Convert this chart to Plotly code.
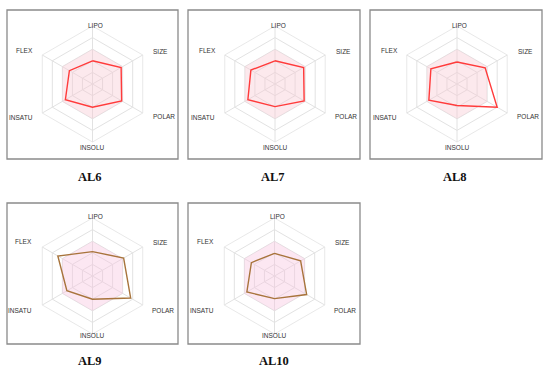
import plotly.graph_objects as go

W, H = 550, 367

properties = ["LIPO", "SIZE", "POLAR", "INSOLU", "INSATU", "FLEX"]
compounds = ["AL6", "AL7", "AL8", "AL9", "AL10"]
al6 = [2.0, 2.85, 2.9, 2.0, 2.7, 2.3]
al7 = [2.0, 2.85, 2.9, 1.95, 2.7, 2.4]
al8 = [1.9, 2.8, 4.0, 1.85, 2.8, 2.6]
al9 = [2.1, 3.1, 3.8, 2.0, 2.55, 3.45]
al10 = [1.95, 2.6, 3.2, 1.95, 2.75, 2.3]
values = [al6, al7, al8, al9, al10]
optimal = [3, 3, 3, 3, 3, 3]
grid_levels = [1, 2, 3, 4, 5]

line_colors = ["#ff3b3b", "#ff3b3b", "#ff3b3b", "#a8743c", "#a8743c"]
pink_fills = ["rgba(248,200,210,0.4)"] * 3 + ["rgba(248,195,222,0.4)"] * 2

# panel layout (pixels): center x, center y, box
centers = [(92.5, 84), (275, 84), (457, 84), (92.5, 276), (274.5, 276)]
boxes = [(7, 10, 178, 159), (188, 10, 360, 159), (370, 10, 542, 159),
         (7, 203, 178, 344), (188, 203, 360, 344)]
title_pos = [(90, 177), (273, 177), (455, 177), (90, 361), (274, 361)]
# axis-label offsets from the radar centre (pixels), top row / bottom row
label_offsets_top = [(3, -59), (68, -32), (71, 33), (0, 63), (-72, 34), (-68, -33)]
label_offsets_bottom = [(3, -59), (68, -34), (70, 34), (0, 59), (-73, 34), (-69, -35)]
R = 58

fig = go.Figure()
shapes = []
annotations = []
for i, name in enumerate(compounds):
    pid = "polar" if i == 0 else f"polar{i+1}"
    cx, cy = centers[i]
    cats = properties + [properties[0]]
    fig.add_trace(go.Scatterpolar(
        r=optimal + [optimal[0]], theta=cats, mode="lines",
        fill="toself", fillcolor=pink_fills[i], line=dict(width=0),
        subplot=pid, showlegend=False, hoverinfo="skip"))
    v = values[i]
    fig.add_trace(go.Scatterpolar(
        r=v + [v[0]], theta=cats, mode="lines",
        line=dict(color=line_colors[i], width=1.4),
        subplot=pid, showlegend=False))
    fig.layout[pid] = dict(
        domain=dict(x=[(cx - R) / W, (cx + R) / W],
                    y=[1 - (cy + R) / H, 1 - (cy - R) / H]),
        gridshape="linear",
        bgcolor="rgba(0,0,0,0)",
        radialaxis=dict(range=[0, 5], tickvals=grid_levels, showticklabels=False,
                        ticks="", showline=False, gridcolor="#e2e2e2", gridwidth=0.8),
        angularaxis=dict(rotation=90, direction="clockwise", categoryarray=properties,
                         categoryorder="array", showticklabels=False,
                         gridcolor="#e2e2e2", linecolor="#e2e2e2", linewidth=0.8,
                         ticks=""),
    )
    offs = label_offsets_top if i < 3 else label_offsets_bottom
    for prop, (dx, dy) in zip(properties, offs):
        annotations.append(dict(text=prop, x=(cx + dx) / W, y=1 - (cy + dy) / H,
                                xref="paper", yref="paper", showarrow=False,
                                xanchor="center", yanchor="middle",
                                font=dict(family="Liberation Sans", size=6.5,
                                          color="#333333")))
    x0, y0, x1, y1 = boxes[i]
    shapes.append(dict(type="rect", xref="paper", yref="paper",
                       x0=x0 / W, x1=x1 / W, y0=1 - y1 / H, y1=1 - y0 / H,
                       line=dict(color="#8a8a8a", width=1.3)))
    tx, ty = title_pos[i]
    annotations.append(dict(text=f"<b>{name}</b>", x=tx / W, y=1 - ty / H,
                            xref="paper", yref="paper", showarrow=False,
                            xanchor="center", yanchor="middle",
                            font=dict(family="Liberation Serif", size=12.5, color="#111111")))

fig.update_layout(width=W, height=H, margin=dict(l=0, r=0, t=0, b=0),
                  paper_bgcolor="white", plot_bgcolor="white",
                  shapes=shapes, annotations=annotations)
fig.write_html("out.html", config={"displayModeBar": False},
               post_script="document.body.style.margin='0';document.body.style.overflow='hidden';")
